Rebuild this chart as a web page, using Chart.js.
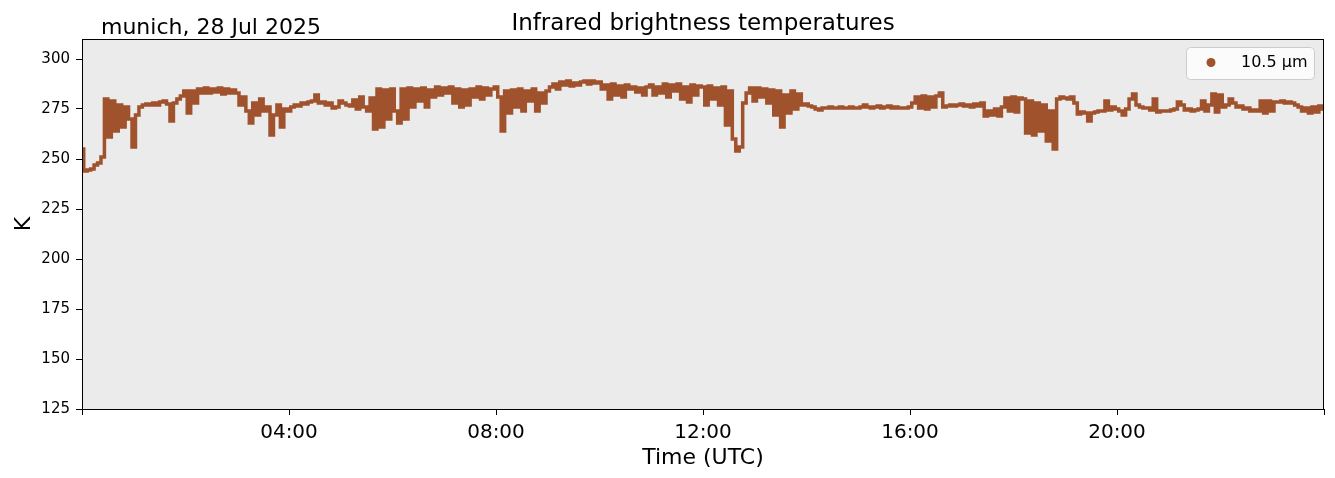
<!DOCTYPE html>
<html>
<head>
<meta charset="utf-8">
<title>Infrared brightness temperatures</title>
<script src="https://cdn.jsdelivr.net/npm/chart.js@4.4.1/dist/chart.umd.min.js"></script>
<style>
  html, body { margin: 0; padding: 0; background: #fff; }
  #wrap { width: 1335px; height: 478px; }
</style>
</head>
<body>
<div id="wrap"><canvas id="chart" width="1335" height="478"></canvas></div>
<script>
// 10.5 um brightness temperature, one reading every 4 minutes from 00:00 UTC
const stepMin = 4;
const seriesLabel = '10.5 µm';
const tempK = [
  // 00h
  255, 244, 244.5, 245, 247, 248, 251, 280, 261, 279, 264, 277, 266, 276, 270,
  // 01h
  256, 272, 276, 277, 277.5, 277, 278, 277, 278.5, 279, 277.5, 269, 278, 280, 281.5,
  // 02h
  284, 273, 284, 278, 285, 283, 285.5, 283, 285, 283.5, 285.5, 282.5, 285, 283, 284.5,
  // 03h
  283, 277, 281, 274, 268, 278, 272, 280, 274, 276, 262, 272, 277, 266, 275,
  // 04h
  274, 276, 277, 276.5, 278, 277.5, 278.5, 279, 282, 278, 278.5, 277, 278, 275.5, 276,
  // 05h
  279, 278, 277, 276.5, 279.5, 275, 281, 276, 274, 280.5, 265, 285, 266, 284.5, 270,
  // 06h
  285, 274, 268, 285, 270, 285.5, 276, 285, 279, 285.5, 276, 284.5, 281, 286, 282,
  // 07h
  285.5, 283, 286, 278, 285, 276, 284.5, 277, 285, 281, 286, 280, 285.5, 282, 285,
  // 08h
  286, 281, 264, 284, 273, 284.5, 276, 285, 274, 284, 279, 285, 274, 283, 278,
  // 09h
  284, 286, 287.5, 285, 288.5, 287, 289, 286.5, 288, 287, 288.5, 289, 287.5, 289, 288,
  // 10h
  288.5, 285, 287, 280, 287.5, 282, 286.5, 281, 287, 285, 286, 283.5, 285.5, 282, 286,
  // 11h
  287, 282, 286, 283, 287.5, 281, 287, 284, 287.5, 280, 286, 278.5, 287, 282, 286.5,
  // 12h
  286, 277, 286.5, 280, 285.5, 277, 286, 267, 284, 260, 254, 256, 278, 283, 285.5,
  // 13h
  279, 285.5, 281, 285, 278, 284.5, 272, 284, 266, 282, 273, 284, 275, 282.5, 277,
  // 14h
  277.5, 276.5, 276, 275, 274.5, 275.5, 275.5, 276, 275.5, 275.5, 276, 275.5, 275.5, 276, 275.5,
  // 15h
  275.5, 276, 277, 276, 275.5, 276, 276.5, 275.5, 276, 276.5, 275.5, 276, 275.5, 275.5, 275.5,
  // 16h
  276, 278, 281, 275.5, 281.5, 275, 281, 276, 281.5, 283, 276, 276.5, 277, 276.5, 277,
  // 17h
  277.5, 276.5, 277, 276, 277.5, 276.5, 278, 271.5, 274, 272, 275, 271.5, 276, 280.5, 274,
  // 18h
  281, 273.5, 280.5, 280, 263, 279, 262, 278, 264, 277, 259, 274, 255, 280, 281,
  // 19h
  280.5, 280, 281, 278, 272.5, 273.5, 273, 269, 273, 273.5, 274, 274, 279, 274.5, 276,
  // 20h
  275, 274, 272, 275, 280, 282.5, 277, 276, 275.5, 275.5, 274.5, 280, 273.5, 274, 274,
  // 21h
  274, 274.5, 275, 278.5, 277, 274.5, 275, 274, 274.5, 275, 279, 274, 277, 282.5, 273.5,
  // 22h
  282, 276, 277, 280, 278, 276, 276.5, 275, 275.5, 274, 274.5, 274, 279, 273, 279,
  // 23h
  274, 278.5, 278.5, 279, 278, 278.5, 278, 277, 276, 274, 275.5, 273, 276, 273.5, 276.5,
  // 24h
  275
];
const yTicks = [125, 150, 175, 200, 225, 250, 275, 300];
const xTickHours = [0, 4, 8, 12, 16, 20, 24];

const lineColor = '#a0522d';
const fontFamily = '"DejaVu Sans", "Liberation Sans", sans-serif';

const points = tempK.map((v, i) => ({ x: i * stepMin / 60, y: v }));

function hourLabel(h) {
  if (h <= 0 || h >= 24) return '';
  return String(h).padStart(2, '0') + ':00';
}

const decorPlugin = {
  id: 'decor',
  beforeDatasetsDraw(chart) {
    const { ctx, chartArea: a } = chart;
    ctx.save();
    ctx.fillStyle = '#ebebeb';
    ctx.fillRect(a.left, a.top, a.right - a.left, a.bottom - a.top);
    ctx.restore();
  },
  afterDraw(chart) {
    const { ctx, chartArea: a } = chart;
    ctx.save();
    // frame
    ctx.strokeStyle = '#000';
    ctx.lineWidth = 1;
    ctx.strokeRect(a.left + 0.5, a.top + 0.5, a.right - a.left - 1, a.bottom - a.top);

    // titles
    ctx.fillStyle = '#000';
    ctx.textBaseline = 'alphabetic';
    ctx.font = '23px ' + fontFamily;
    ctx.textAlign = 'center';
    ctx.fillText('Infrared brightness temperatures', (a.left + a.right) / 2, 30);
    ctx.font = '22px ' + fontFamily;
    ctx.textAlign = 'left';
    ctx.fillText('munich, 28 Jul 2025', 101, 34);

    // axis titles
    ctx.textAlign = 'center';
    ctx.fillText('Time (UTC)', (a.left + a.right) / 2, 464);
    ctx.save();
    ctx.translate(30, (a.top + a.bottom) / 2);
    ctx.rotate(-Math.PI / 2);
    ctx.fillText('K', 0, 0);
    ctx.restore();

    // legend
    const bx = 1186, by = 47, bw = 128, bh = 32, r = 4;
    ctx.beginPath();
    ctx.roundRect(bx + 0.5, by + 0.5, bw, bh, r);
    ctx.fillStyle = 'rgba(255,255,255,0.8)';
    ctx.fill();
    ctx.strokeStyle = '#cccccc';
    ctx.stroke();
    ctx.beginPath();
    ctx.arc(1211, 62.5, 4.5, 0, Math.PI * 2);
    ctx.fillStyle = lineColor;
    ctx.fill();
    ctx.fillStyle = '#000';
    ctx.font = '16px ' + fontFamily;
    ctx.textAlign = 'left';
    ctx.textBaseline = 'middle';
    ctx.fillText(seriesLabel, 1241, 63);
    ctx.restore();
  }
};

new Chart(document.getElementById('chart'), {
  type: 'line',
  data: {
    datasets: [{
      label: seriesLabel,
      data: points,
      borderColor: lineColor,
      backgroundColor: lineColor,
      borderWidth: 3.5,
      pointRadius: 0,
      stepped: 'middle',
      borderJoinStyle: 'miter'
    }]
  },
  options: {
    responsive: false,
    animation: false,
    devicePixelRatio: 1,
    layout: { padding: { top: 39, right: 11, left: 0, bottom: 0 } },
    plugins: {
      legend: { display: false },
      title: { display: false },
      tooltip: { enabled: false }
    },
    scales: {
      x: {
        type: 'linear',
        min: 0,
        max: 24,
        afterFit: scale => { scale.height = 69; },
        afterBuildTicks: scale => { scale.ticks = xTickHours.map(v => ({ value: v })); },
        grid: { drawOnChartArea: false, drawTicks: true, tickLength: 6, color: '#000', tickColor: '#000' },
        border: { display: false },
        ticks: {
          maxRotation: 0,
          autoSkip: false,
          padding: 6,
          color: '#000',
          font: { family: fontFamily, size: 20 },
          callback: v => hourLabel(v)
        }
      },
      y: {
        min: 125,
        max: 310,
        afterFit: scale => { scale.width = 82; },
        afterBuildTicks: scale => { scale.ticks = yTicks.map(v => ({ value: v })); },
        grid: { drawOnChartArea: false, drawTicks: true, tickLength: 6, color: '#000', tickColor: '#000' },
        border: { display: false },
        ticks: {
          autoSkip: false,
          padding: 6,
          color: '#000',
          font: { family: fontFamily, size: 15 },
          callback: v => String(v)
        }
      }
    }
  },
  plugins: [decorPlugin]
});
</script>
</body>
</html>
